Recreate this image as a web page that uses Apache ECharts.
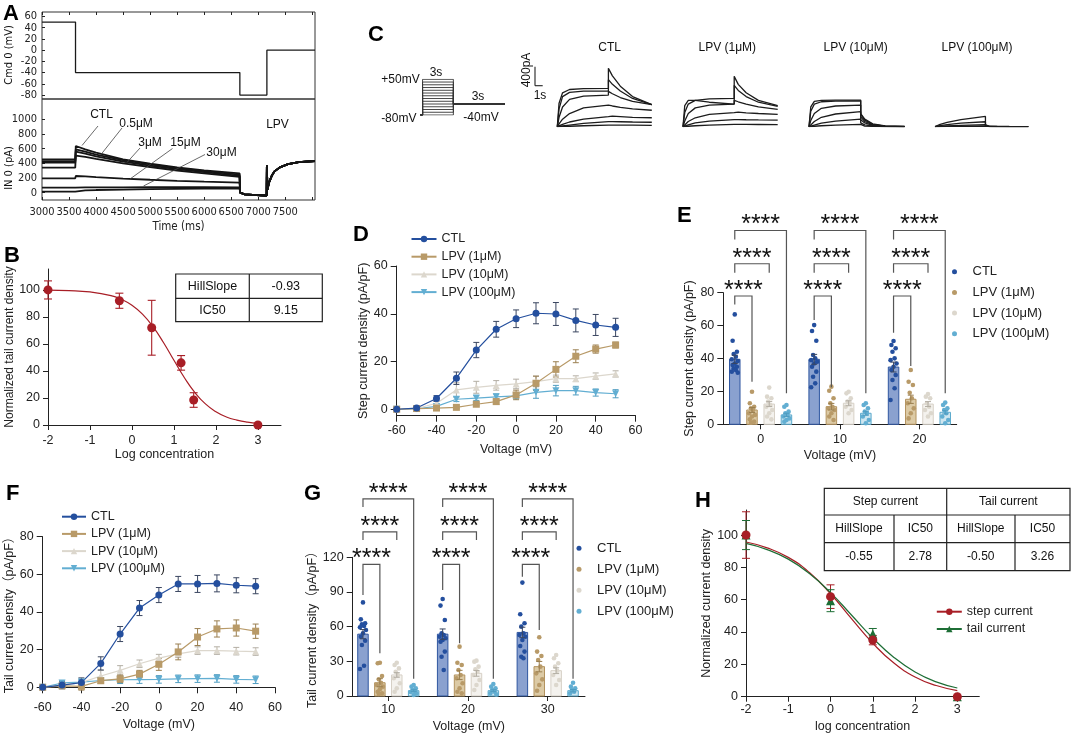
<!DOCTYPE html>
<html><head><meta charset="utf-8">
<script src="https://cdn.jsdelivr.net/npm/echarts@6/dist/echarts.min.js"></script>
<style>html,body{margin:0;padding:0;background:#fff}#c{width:1072px;height:736px}</style>
</head><body><div id="c"></div>
<script>
const FONT = "'Liberation Sans', Arial, 'Noto Sans CJK SC', sans-serif";
const NARROW = "'Liberation Sans Narrow', 'DejaVu Sans Condensed', 'Liberation Sans', sans-serif";
const INK = '#222';

// ---------------- Panel A data ----------------
const aCmdTime = [3000, 3620, 3620, 6660, 6660, 7160, 7160, 8050];
const aCmdMv = [50, 50, -40, -40, -80, -80, 0, 0];
const aTraceTime = [3000, 3615, 3625, 3800, 4000, 4500, 5000, 5500, 6000, 6655];
const aTraceCTL = [455, 455, 636, 590, 545, 455, 395, 345, 305, 264];
const aTrace05 = [430, 430, 591, 560, 520, 445, 385, 335, 295, 245];
const aTrace3 = [409, 409, 559, 532, 495, 425, 370, 320, 280, 228];
const aTrace15 = [341, 341, 504, 488, 460, 400, 350, 302, 262, 215];
const aTrace30 = [196, 196, 227, 222, 212, 192, 176, 162, 150, 136];
const aTraceP = [68, 68, 72, 72, 72, 73, 74, 74, 74, 73];
const aTraceQ = [14, 14, 25, 30, 36, 42, 48, 53, 57, 60];
const aTailTime = [6665, 6690, 6750, 6900, 7050, 7155, 7160, 7170, 7200, 7250, 7300, 7400, 7550, 7750, 8050];
const aTailPA = [0, -10, -22, -30, -35, -40, 377, 40, 140, 230, 290, 345, 390, 415, 432];
const aTimeLabels = [3000, 3500, 4000, 4500, 5000, 5500, 6000, 6500, 7000, 7500];
const aTimeTicks = [3000, 3500, 4000, 4500, 5000, 5500, 6000, 6500, 7000, 7500, 8000];
const aCmdTicks = [-80, -60, -40, -20, 0, 20, 40, 60];
const aCurTicks = [0, 200, 400, 600, 800, 1000];
const aLabels = ['CTL', '0.5μM', '3μM', '15μM', '30μM'];

// ---------------- Panel C data ----------------
const cTime = [0, 0.1, 0.3, 0.7, 1.5, 2.92, 2.92, 3.15, 3.6, 4.3, 5.4];
const cTitles = ['CTL', 'LPV (1μM)', 'LPV (10μM)', 'LPV (100μM)'];
const cCTL = [
  [0, 500, 720, 790, 810, 815, 1240, 1080, 860, 640, 470],
  [0, 380, 640, 730, 755, 758, 1000, 900, 760, 600, 470],
  [0, 200, 420, 580, 650, 673, 750, 700, 620, 540, 470],
  [0, 60, 160, 280, 400, 460, 460, 440, 410, 380, 350],
  [0, 15, 50, 100, 160, 213, 230, 225, 215, 200, 190],
  [0, 5, 15, 35, 70, 106, 110, 108, 105, 100, 95],
  [0, 2, 5, 10, 20, 35, 35, 34, 33, 32, 30]
];
const cLPV1 = [
  [0, 300, 480, 560, 590, 600, 1070, 900, 720, 560, 450],
  [0, 450, 560, 560, 520, 480, 880, 770, 640, 520, 430],
  [0, 120, 280, 400, 460, 480, 560, 530, 480, 420, 370],
  [0, 40, 110, 190, 260, 300, 320, 310, 295, 280, 260],
  [0, 10, 40, 80, 120, 150, 155, 152, 148, 144, 140],
  [0, 3, 10, 20, 35, 50, 50, 49, 48, 47, 46]
];
const cLPV10 = [
  [0, 420, 540, 560, 565, 566, 280, 160, 60, 15, 5],
  [0, 330, 480, 530, 545, 550, 260, 140, 50, 12, 4],
  [0, 130, 280, 390, 440, 460, 210, 110, 40, 10, 3],
  [0, 40, 110, 200, 270, 320, 150, 80, 30, 8, 2],
  [0, 10, 35, 75, 120, 160, 80, 40, 15, 4, 1],
  [0, 3, 10, 20, 35, 50, 25, 12, 5, 2, 0]
];
const cLPV100 = [
  [0, 20, 50, 90, 150, 219, 25, 12, 6, 4, 3],
  [0, 10, 25, 45, 75, 105, 12, 6, 4, 3, 2],
  [0, 4, 10, 18, 30, 45, 6, 4, 3, 2, 1],
  [0, 1, 3, 6, 10, 15, 3, 2, 1, 1, 1]
];
const protoLevels = [-80, -70, -60, -50, -40, -30, -20, -10, 0, 10, 20, 30, 40, 50];
const protoTime = [0, 0.22, 0.22, 3.22, 3.22, 8.22];

// ---------------- Panel B data ----------------
const bLogConc = [-2, -0.3, 0.47, 1.17, 1.47, 3];
const bMean = [100, 92, 72, 46, 18.5, 0];
const bErr = [6.7, 5.6, 20.3, 5.4, 5.4, 0];
const bFitX = [-2, -1.5, -1, -0.5, -0.25, 0, 0.25, 0.5, 0.75, 1, 1.25, 1.5, 1.75, 2, 2.25, 2.5, 2.75, 3];
const bFitY = [99.8, 99.5, 98.5, 95.8, 93.0, 88.7, 82.1, 72.8, 61.1, 47.9, 35.0, 24.0, 15.6, 9.8, 5.95, 3.6, 2.1, 1.25];
const bTableRows = [['HillSlope', '-0.93'], ['IC50', '9.15']];
const logTicks = [-2, -1, 0, 1, 2, 3];
const pctTicks = [0, 20, 40, 60, 80, 100];

// ---------------- Panel D / F data ----------------
const ivVolt = [-60, -50, -40, -30, -20, -10, 0, 10, 20, 30, 40, 50];
const dCTL = [0, 0.5, 4.5, 13, 24.8, 33.5, 37.9, 40.2, 39.9, 37.2, 35.3, 34.3];
const dCTLerr = [0.3, 0.5, 1.2, 2.6, 3.2, 3.3, 3.7, 4.4, 4.8, 4.8, 4.4, 3.8];
const dLPV1 = [0, 0.3, 0.5, 0.8, 2.1, 3.2, 6, 10.9, 16.7, 22.2, 25.2, 26.9];
const dLPV1err = [0.2, 0.3, 0.4, 0.5, 0.6, 1.2, 2, 3, 3.2, 2.7, 1.7, 1.2];
const dLPV10 = [0, 0.3, 2.5, 8.1, 9.2, 10, 10.6, 11.6, 12.8, 12.8, 13.9, 14.8];
const dLPV10err = [0.2, 0.3, 1, 3, 2.5, 2, 2, 2.2, 1.5, 1.2, 1.3, 1.3];
const dLPV100 = [0, 0.2, 1.2, 4.2, 4.7, 5.2, 5.6, 7.1, 7.8, 7.8, 7, 6.5];
const dLPV100err = [0.2, 0.2, 1, 1, 1, 1.2, 1.2, 2.5, 2.2, 1.8, 1.5, 1.7];
const fCTL = [0, 1.2, 2.5, 12.7, 28.3, 42.1, 49, 54.9, 54.9, 55.2, 54.2, 53.7];
const fCTLerr = [0.5, 2, 2.5, 3.5, 4, 4, 4, 4, 4.5, 4.5, 4, 4];
const fLPV1 = [0, 0.8, 0.5, 3.5, 4.5, 7, 12.2, 18.8, 26.7, 31, 31.5, 29.8];
const fLPV1err = [0.5, 1, 2, 1.5, 2, 2, 3.2, 4.2, 4.5, 4.3, 4.3, 3.8];
const fLPV10 = [0, 1.2, 2.5, 6, 9, 12.5, 15.5, 17.8, 19.5, 19.5, 19.2, 19];
const fLPV10err = [0.5, 1, 1.5, 3, 2.5, 2, 2, 2, 2, 2, 2, 2];
const fLPV100 = [0, 2.3, 2.8, 3.6, 4, 4.1, 4.2, 4.5, 4.6, 4.7, 4.2, 4];
const fLPV100err = [0.5, 1, 1.5, 1.5, 2, 2, 2, 2, 2, 2, 2, 2];

// ---------------- Panel E data ----------------
const eCats = ['0', '10', '20'];
const eMeanCTL = [39.5, 39.5, 34.8], eSemCTL = [2.5, 3, 3];
const eMeanLPV1 = [8.7, 10.7, 15.2], eSemLPV1 = [1.5, 2, 2.5];
const eMeanLPV10 = [12.3, 12.8, 12.3], eSemLPV10 = [1.5, 1.5, 1.5];
const eMeanLPV100 = [5.7, 6.7, 7.3], eSemLPV100 = [1, 1.2, 1];
const eDotsCTL = [
  [66.8, 50.8, 44.1, 42.7, 41.1, 39.5, 38.5, 37, 36, 35, 34, 33, 32, 31.4],
  [60.3, 56.7, 50.8, 42.1, 40.1, 39, 38, 37, 35, 32, 28.9, 24.9, 22.5],
  [50.6, 48.2, 46.2, 44.1, 40.1, 39, 37, 35, 33, 30, 26.9, 21.9, 14.8]];
const eDotsLPV1 = [
  [19.8, 12.8, 10.7, 9.7, 8.7, 6.7, 5.7, 4.7, 3, 1.6, 1],
  [22.9, 20.4, 15.8, 12.8, 10.7, 9.7, 8.7, 6.7, 4.7, 2.6],
  [33, 25.9, 23.9, 19.2, 15.8, 12.8, 9.7, 6.7, 3.6]];
const eDotsLPV10 = [
  [22.3, 16.8, 15.8, 13.8, 11.7, 10.7, 8.7, 6.7, 4.7, 3],
  [19.8, 18.8, 15.8, 13.8, 12.8, 10.7, 8.7, 6.7],
  [18.4, 16.8, 15.8, 12.8, 10.7, 8.7, 6.7, 4.7]];
const eDotsLPV100 = [
  [11.7, 10.7, 7.7, 6.7, 5.7, 4.7, 3.6, 2.6, 1.6],
  [12.8, 11.7, 9.7, 7.7, 6.7, 4.7, 2.6, 0.6],
  [13.2, 11.7, 9.7, 8.7, 6.7, 4.7, 2.6, 0.6]];
// [category, compared group, bracket top, left leg end, right leg end]
const eBrackets = [
  [0, 1, 78, 72.9, 25.9], [0, 2, 97.6, 92.1, 92.1], [0, 3, 117.8, 112.3, 18.8],
  [1, 1, 78, 63.4, 22.5], [1, 2, 97.6, 92.1, 92.1], [1, 3, 117.8, 112.3, 18.8],
  [2, 1, 78, 55.7, 35.4], [2, 2, 97.6, 92.1, 92.1], [2, 3, 117.8, 112.3, 18.8]];

// ---------------- Panel G data ----------------
const gCats = ['10', '20', '30'];
const gMeanCTL = [53.5, 53.5, 55], gSemCTL = [4, 4.5, 4.5];
const gMeanLPV1 = [11.5, 18.2, 25.4], gSemLPV1 = [3.5, 4, 4.5];
const gMeanLPV10 = [18.2, 19.6, 21.9], gSemLPV10 = [2, 2.5, 2.5];
const gMeanLPV100 = [4.6, 4.6, 4.6], gSemLPV100 = [0.8, 0.8, 1];
const gDotsCTL = [
  [81, 66.3, 62.9, 62, 60.6, 59.4, 57.1, 54.2, 51.3, 47.9, 44.1, 26.2, 23.4],
  [83.9, 78.2, 65.8, 54.2, 52.8, 51.3, 49.9, 48.5, 47, 38.4, 34, 22.5],
  [98.1, 70.7, 62.9, 60, 54.2, 52.8, 51.3, 48.5, 43.3, 38.4, 34, 32.6]];
const gDotsLPV1 = [
  [28.8, 28.3, 17.3, 14.4, 11.5, 9.5, 8.1, 5.8, 3.7, 2.3, 1.7],
  [42.7, 28.8, 26.8, 22.5, 18.2, 15.3, 11, 6.6, 3.7, 2.3],
  [50.8, 38.4, 34.6, 31.2, 25.4, 19.6, 14.4, 9.5, 4.6]];
const gDotsLPV10 = [
  [28.8, 26.8, 23.9, 21, 18.2, 15.3, 11, 6.6, 3.7],
  [30.6, 29.7, 25.4, 23.1, 21, 18.2, 13.8, 9.5, 5.2],
  [35.5, 32.6, 28.3, 25.4, 21.9, 18.2, 13.8, 9.5]];
const gDotsLPV100 = [
  [9.5, 8.1, 6.6, 5.2, 4.3, 3.5, 2.3, 0.9],
  [10.4, 8.1, 6.6, 5.2, 3.7, 2.3, 1.4],
  [11.5, 8.1, 6.6, 5.2, 3.7, 2.3]];
const gBrackets = [
  [0, 1, 113.9, 87.4, 36.9], [0, 2, 142, 135, 135], [0, 3, 170.5, 163.5, 15],
  [1, 1, 113.9, 91.7, 45.6], [1, 2, 142, 135, 135], [1, 3, 170.5, 163.5, 15],
  [2, 1, 113.9, 103.2, 57], [2, 2, 142, 135, 135], [2, 3, 170.5, 163.5, 15]];

// ---------------- Panel H data ----------------
const hLogConc = [-2, 0, 1, 3];
const hStepMean = [100, 61.9, 35, 0], hStepErr = [14.4, 7.3, 2.9, 0];
const hTailMean = [100, 59.4, 38.8, 0], hTailErr = [9, 6.8, 3.4, 0];
const hFitX = [-2, -1.5, -1, -0.5, 0, 0.5, 1, 1.5, 2, 2.5, 3];
const hStepFit = [95.7, 92.1, 86.2, 76.8, 63.7, 48.2, 33.1, 20.8, 12.2, 6.9, 3.8];
const hTailFit = [94.8, 91.0, 85.1, 76.2, 64.4, 50.4, 36.3, 24.3, 15.3, 9.2, 5.4];
const hTableHead = ['Step current', 'Tail current'];
const hTableSub = ['HillSlope', 'IC50', 'HillSlope', 'IC50'];
const hTableVal = ['-0.55', '2.78', '-0.50', '3.26'];

// ---------------- styles ----------------
const groups = ['CTL', 'LPV (1μM)', 'LPV (10μM)', 'LPV (100μM)'];
const gColor = ['#244f9e', '#b89a68', '#dcd7cd', '#62aed2'];
const gErrColor = ['#3a4660', '#9a7f50', '#b3aea4', '#4f9cc0'];
const gBarFill = ['#8aa1cf', '#dccaa5', '#f4f2ee', '#cfe6f0'];
const gBarStroke = ['#2f56a0', '#b3935f', '#d6d0c6', '#5aa9cc'];
const gSymbol = ['circle', 'rect', 'triangle', 'triangle'];
const gRotate = [0, 0, 0, 180];
const RED = '#a81e26', GREEN = '#1e6e36';
const plain = v => String(v);

function merge(a, b) {
  const out = Object.assign({}, a);
  for (const k in b) {
    const bv = b[k], av = a[k];
    if (bv && typeof bv === 'object' && !Array.isArray(bv) && av && typeof av === 'object' && !Array.isArray(av)) out[k] = merge(av, bv);
    else out[k] = bv;
  }
  return out;
}
function valAxis(gi, o) {
  return merge({
    gridIndex: gi, type: 'value', splitLine: { show: false },
    axisLine: { show: true, onZero: false, lineStyle: { color: INK, width: 1 } },
    axisTick: { show: true, length: 5, lineStyle: { color: INK } },
    axisLabel: { color: INK, fontFamily: FONT, fontSize: 12.5, margin: 8, hideOverlap: false, showMinLabel: true, showMaxLabel: true },
    nameLocation: 'middle',
    nameTextStyle: { color: INK, fontFamily: FONT, fontSize: 12.5 }
  }, o || {});
}
function hiddenAxis(gi, min, max) { return { gridIndex: gi, type: 'value', show: false, min, max, splitLine: { show: false } }; }

const grids = [], xAxes = [], yAxes = [], series = [], legends = [], els = [];
function addGrid(g, xa, ya) { grids.push(Object.assign({ containLabel: false }, g)); const i = grids.length - 1; xa.gridIndex = i; ya.gridIndex = i; xAxes.push(xa); yAxes.push(ya); return i; }

function errRender(dx, color, cap, lw) {
  return function (params, api) {
    const x = api.value(0) + dx;
    const a = api.coord([x, api.value(1)]), b = api.coord([x, api.value(2)]);
    const st = { stroke: color, lineWidth: lw };
    return { type: 'group', children: [
      { type: 'line', shape: { x1: a[0], y1: a[1], x2: b[0], y2: b[1] }, style: st },
      { type: 'line', shape: { x1: a[0] - cap, y1: a[1], x2: a[0] + cap, y2: a[1] }, style: st },
      { type: 'line', shape: { x1: b[0] - cap, y1: b[1], x2: b[0] + cap, y2: b[1] }, style: st }] };
  };
}
function barRender(dx, fill, stroke) {
  return function (params, api) {
    const x = api.value(0) + dx;
    const p0 = api.coord([x, 0]), p1 = api.coord([x, api.value(1)]);
    const w = 10.5;
    return { type: 'rect', shape: { x: p0[0] - w / 2, y: p1[1], width: w, height: p0[1] - p1[1] }, style: { fill, stroke, lineWidth: 1 } };
  };
}
function bracketRender(step) {
  return function (params, api) {
    const cat = api.value(0), g = api.value(1), top = api.value(2), lb = api.value(3), rb = api.value(4);
    const xl = cat - 1.5 * step, xr = cat + (g - 1.5) * step;
    const a = api.coord([xl, lb]), b = api.coord([xl, top]), c = api.coord([xr, top]), d = api.coord([xr, rb]);
    return { type: 'group', children: [
      { type: 'polyline', shape: { points: [a, b, c, d] }, style: { stroke: '#555', lineWidth: 1.2, fill: null } },
      { type: 'text', x: (b[0] + c[0]) / 2, y: b[1] - 5, style: { text: '****', fontSize: 25, fontFamily: FONT, fill: '#111', align: 'center', verticalAlign: 'middle' } }] };
  };
}

// ================= Panel A =================
const giA1 = addGrid({ left: 42, top: 12, width: 273, height: 87, show: true, borderColor: '#333', borderWidth: 1 },
  valAxis(0, { min: 3000, max: 8050, position: 'top', axisLine: { show: false }, axisTick: { inside: true, length: 3, customValues: aTimeTicks }, axisLabel: { show: false } }),
  valAxis(0, { min: -87, max: 68, axisLine: { show: false }, axisTick: { inside: true, length: 3, customValues: aCmdTicks }, axisLabel: { customValues: aCmdTicks, fontFamily: NARROW, fontSize: 11, margin: 5, formatter: plain } }));
const giA2 = addGrid({ left: 42, top: 99, width: 273, height: 101, show: true, borderColor: '#333', borderWidth: 1 },
  valAxis(0, { min: 3000, max: 8050, axisLine: { show: false }, axisTick: { inside: true, length: 3, customValues: aTimeTicks }, axisLabel: { customValues: aTimeLabels, fontFamily: NARROW, fontSize: 11, margin: 7, formatter: plain }, name: 'Time (ms)', nameGap: 21, nameTextStyle: { fontFamily: NARROW, fontSize: 11.5 } }),
  valAxis(0, { min: -100, max: 1277, axisLine: { show: false }, axisTick: { inside: true, length: 3, customValues: aCurTicks }, axisLabel: { customValues: aCurTicks, fontFamily: NARROW, fontSize: 11, margin: 5, formatter: plain } }));
series.push({ type: 'line', xAxisIndex: giA1, yAxisIndex: giA1, data: aCmdTime.map((t, i) => [t, aCmdMv[i]]), showSymbol: false, silent: true, lineStyle: { color: '#1a1a1a', width: 1.3 } });
[aTraceCTL, aTrace05, aTrace3, aTrace15, aTrace30, aTraceP, aTraceQ].forEach(tr => {
  const d = aTraceTime.map((t, i) => [t, tr[i]]).concat(aTailTime.map((t, i) => [t, aTailPA[i]]));
  series.push({ type: 'line', xAxisIndex: giA2, yAxisIndex: giA2, data: d, showSymbol: false, silent: true, lineStyle: { color: '#151515', width: 1.8 } });
});

// ================= Panel C =================
const cLeft = [557.3, 683, 809, 935], cWidth = [94.5, 94.7, 95.6, 93.3];
[cCTL, cLPV1, cLPV10, cLPV100].forEach((set, k) => {
  const gi = addGrid({ left: cLeft[k], top: 67.4, width: cWidth[k], height: 59.3 }, hiddenAxis(0, 0, 5.4), hiddenAxis(0, 0, 1260));
  set.forEach(curve => series.push({ type: 'line', xAxisIndex: gi, yAxisIndex: gi, data: cTime.map((t, i) => [t, curve[i]]), showSymbol: false, silent: true, lineStyle: { color: '#1c1c1c', width: 1.3 } }));
});
const giProto = addGrid({ left: 420.3, top: 79.3, width: 84.4, height: 35.7 }, hiddenAxis(0, 0, 8.22), hiddenAxis(0, -80, 50));
protoLevels.forEach(v => {
  const volts = [-80, -80, v, v, -40, -40];
  series.push({ type: 'line', xAxisIndex: giProto, yAxisIndex: giProto, data: protoTime.map((t, i) => [t, volts[i]]), showSymbol: false, silent: true, lineStyle: { color: '#333', width: 0.9 } });
});

// ================= Panel B =================
const giB = addGrid({ left: 48, top: 269, width: 233, height: 156 },
  valAxis(0, { min: -2, max: 3.55, axisTick: { customValues: logTicks }, axisLabel: { customValues: logTicks, margin: 9 }, name: 'Log concentration', nameGap: 23 }),
  valAxis(0, { min: 0, max: 115.5, axisTick: { customValues: pctTicks }, axisLabel: { customValues: pctTicks, margin: 8 }, name: 'Normalized tail current density', nameGap: 29, nameTextStyle: { fontSize: 12 } }));
series.push({ type: 'line', xAxisIndex: giB, yAxisIndex: giB, data: bFitX.map((x, i) => [x, bFitY[i]]), smooth: true, showSymbol: false, silent: true, lineStyle: { color: RED, width: 1.2 }, z: 2 });
series.push({ type: 'custom', coordinateSystem: 'cartesian2d', xAxisIndex: giB, yAxisIndex: giB, renderItem: errRender(0, RED, 4, 1.1), data: bLogConc.map((x, i) => [x, bMean[i] - bErr[i], bMean[i] + bErr[i]]), silent: true, z: 3, clip: false });
series.push({ type: 'scatter', xAxisIndex: giB, yAxisIndex: giB, data: bLogConc.map((x, i) => [x, bMean[i]]), symbolSize: 9, itemStyle: { color: RED, opacity: 1 }, silent: true, z: 4, clip: false });

// ================= Panels D & F (I-V curves) =================
function ivPanel(tag, gi, means, errs) {
  [3, 2, 1, 0].forEach(g => {
    series.push({ type: 'custom', coordinateSystem: 'cartesian2d', xAxisIndex: gi, yAxisIndex: gi, renderItem: errRender(0, gErrColor[g], 3, 1), data: ivVolt.map((v, i) => [v, means[g][i] - errs[g][i], means[g][i] + errs[g][i]]), silent: true, z: 2, clip: false });
  });
  [3, 2, 1, 0].forEach(g => {
    series.push({ type: 'line', name: groups[g] + '#' + tag, xAxisIndex: gi, yAxisIndex: gi, data: ivVolt.map((v, i) => [v, means[g][i]]), symbol: gSymbol[g], symbolRotate: gRotate[g], symbolSize: 7, showSymbol: true, itemStyle: { color: gColor[g], opacity: 1 }, lineStyle: { color: gColor[g], width: 1.2 }, silent: true, z: 3, clip: false });
  });
}
const giD = addGrid({ left: 396.7, top: 266, width: 238.8, height: 149.7 },
  valAxis(0, { min: -60, max: 60, interval: 20, axisTick: { length: 6 }, axisLabel: { margin: 9 }, name: 'Voltage (mV)', nameGap: 28 }),
  valAxis(0, { min: -2.7, max: 60, axisTick: { length: 6, customValues: [0, 20, 40, 60] }, axisLabel: { customValues: [0, 20, 40, 60], margin: 9 }, name: 'Step current density (pA/pF)', nameGap: 25 }));
ivPanel('D', giD, [dCTL, dLPV1, dLPV10, dLPV100], [dCTLerr, dLPV1err, dLPV10err, dLPV100err]);
const giF = addGrid({ left: 42.7, top: 536.7, width: 232.3, height: 150.6 },
  valAxis(0, { min: -60, max: 60, interval: 20, axisTick: { length: 6 }, axisLabel: { margin: 14 }, name: 'Voltage (mV)', nameGap: 31 }),
  valAxis(0, { min: 0, max: 80, interval: 20, axisTick: { length: 6 }, axisLabel: { margin: 9 }, name: 'Tail current density（pA/pF）', nameGap: 18 }));
ivPanel('F', giF, [fCTL, fLPV1, fLPV10, fLPV100], [fCTLerr, fLPV1err, fLPV10err, fLPV100err]);

// ================= Panels E & G (bar + dots) =================
const jit = [0, -1, 1, -0.5, 0.5, -1.4, 1.4];
function barPanel(tag, gi, step, means, sems, dots, brackets) {
  [0, 1, 2, 3].forEach(g => {
    const dx = (g - 1.5) * step;
    series.push({ type: 'custom', coordinateSystem: 'cartesian2d', xAxisIndex: gi, yAxisIndex: gi, renderItem: barRender(dx, gBarFill[g], gBarStroke[g]), data: means[g].map((m, c) => [c, m]), silent: true, z: 1, clip: false });
  });
  [0, 1, 2, 3].forEach(g => {
    const dx = (g - 1.5) * step;
    const pts = [];
    dots[g].forEach((arr, c) => arr.forEach((v, i) => pts.push([c + dx + jit[i % 7] * 0.027, v])));
    series.push({ type: 'scatter', name: groups[g] + '#' + tag, xAxisIndex: gi, yAxisIndex: gi, data: pts, symbol: 'circle', symbolSize: 4.6, itemStyle: { color: gColor[g], opacity: 1 }, silent: true, z: 2, clip: false });
  });
  [0, 1, 2, 3].forEach(g => {
    const dx = (g - 1.5) * step;
    series.push({ type: 'custom', coordinateSystem: 'cartesian2d', xAxisIndex: gi, yAxisIndex: gi, renderItem: errRender(dx, gErrColor[g], 3, 1), data: means[g].map((m, c) => [c, m - sems[g][c], m + sems[g][c]]), silent: true, z: 3, clip: false });
  });
  series.push({ type: 'custom', coordinateSystem: 'cartesian2d', xAxisIndex: gi, yAxisIndex: gi, renderItem: bracketRender(step), data: brackets, silent: true, z: 4, clip: false });
}
const giE = addGrid({ left: 723.3, top: 292.7, width: 233.4, height: 131.6 },
  valAxis(0, { min: -0.47, max: 2.47, axisTick: { length: 5, customValues: [0, 1, 2] }, axisLabel: { customValues: [0, 1, 2], margin: 9, formatter: v => eCats[Math.round(v)] }, name: 'Voltage (mV)', nameGap: 25 }),
  valAxis(0, { min: 0, max: 80, interval: 20, axisTick: { length: 6 }, axisLabel: { margin: 9 }, name: 'Step current density (pA/pF)', nameGap: 28 }));
barPanel('E', giE, 0.217, [eMeanCTL, eMeanLPV1, eMeanLPV10, eMeanLPV100], [eSemCTL, eSemLPV1, eSemLPV10, eSemLPV100], [eDotsCTL, eDotsLPV1, eDotsLPV10, eDotsLPV100], eBrackets);
const giG = addGrid({ left: 352.7, top: 557.3, width: 232.3, height: 138.7 },
  valAxis(0, { min: -0.447, max: 2.468, axisTick: { length: 5, customValues: [0, 1, 2] }, axisLabel: { customValues: [0, 1, 2], margin: 7, formatter: v => gCats[Math.round(v)] }, name: 'Voltage (mV)', nameGap: 24 }),
  valAxis(0, { min: 0, max: 120, interval: 30, axisTick: { length: 6 }, axisLabel: { margin: 9 }, name: 'Tail current density（pA/pF）', nameGap: 31 }));
barPanel('G', giG, 0.212, [gMeanCTL, gMeanLPV1, gMeanLPV10, gMeanLPV100], [gSemCTL, gSemLPV1, gSemLPV10, gSemLPV100], [gDotsCTL, gDotsLPV1, gDotsLPV10, gDotsLPV100], gBrackets);

// ================= Panel H =================
const giH = addGrid({ left: 746, top: 510, width: 233.3, height: 186.7 },
  valAxis(0, { min: -2, max: 3.52, axisTick: { customValues: logTicks }, axisLabel: { customValues: logTicks, margin: 7 }, name: 'log concentration', nameGap: 24 }),
  valAxis(0, { min: 0, max: 115.5, axisTick: { customValues: pctTicks }, axisLabel: { customValues: pctTicks, margin: 8 }, name: 'Normalized current density', nameGap: 29 }));
series.push({ type: 'line', xAxisIndex: giH, yAxisIndex: giH, data: hFitX.map((x, i) => [x, hStepFit[i]]), smooth: true, showSymbol: false, silent: true, lineStyle: { color: RED, width: 1.2 }, z: 2 });
series.push({ type: 'line', xAxisIndex: giH, yAxisIndex: giH, data: hFitX.map((x, i) => [x, hTailFit[i]]), smooth: true, showSymbol: false, silent: true, lineStyle: { color: GREEN, width: 1.2 }, z: 2 });
series.push({ type: 'custom', coordinateSystem: 'cartesian2d', xAxisIndex: giH, yAxisIndex: giH, renderItem: errRender(0, RED, 4, 1), data: hLogConc.map((x, i) => [x, hStepMean[i] - hStepErr[i], hStepMean[i] + hStepErr[i]]), silent: true, z: 3, clip: false });
series.push({ type: 'custom', coordinateSystem: 'cartesian2d', xAxisIndex: giH, yAxisIndex: giH, renderItem: errRender(0, GREEN, 4, 1), data: hLogConc.map((x, i) => [x, hTailMean[i] - hTailErr[i], hTailMean[i] + hTailErr[i]]), silent: true, z: 3, clip: false });
function isolated(xs, ys) { const d = []; xs.forEach((x, i) => { if (i) d.push([x - 0.01, null]); d.push([x, ys[i]]); }); return d; }
series.push({ type: 'line', name: 'tail current#H', xAxisIndex: giH, yAxisIndex: giH, data: isolated(hLogConc, hTailMean), connectNulls: false, symbol: 'triangle', symbolSize: 9, showSymbol: true, itemStyle: { color: GREEN }, lineStyle: { color: GREEN, width: 1.2 }, silent: true, z: 4, clip: false });
series.push({ type: 'line', name: 'step current#H', xAxisIndex: giH, yAxisIndex: giH, data: isolated(hLogConc, hStepMean), connectNulls: false, symbol: 'circle', symbolSize: 9, showSymbol: true, itemStyle: { color: RED }, lineStyle: { color: RED, width: 1.2 }, silent: true, z: 5, clip: false });

// ================= Legends =================
const fmt = n => n.split('#')[0];
function lineLegend(tag, left, top, gap, w) {
  return { left, top, orient: 'vertical', itemWidth: w, itemHeight: 8, itemGap: gap, selectedMode: false, formatter: fmt,
    data: groups.map(g => g + '#' + tag), textStyle: { fontFamily: FONT, fontSize: 12.5, color: INK, lineHeight: 14 } };
}
function dotLegend(tag, left, top, gap) {
  return { left, top, orient: 'vertical', icon: 'circle', itemWidth: 26, itemHeight: 5, itemGap: gap, selectedMode: false, formatter: fmt,
    data: groups.map(g => g + '#' + tag), textStyle: { fontFamily: FONT, fontSize: 13, color: INK, lineHeight: 16 } };
}
legends.push(lineLegend('D', 405.5, 227, 3.7, 25));
legends.push(lineLegend('F', 56, 504.7, 3.2, 24));
legends.push(dotLegend('E', 947, 258.7, 4.7));
legends.push(dotLegend('G', 571.5, 535.3, 5));
legends.push({ left: 930.8, top: 599.7, orient: 'vertical', itemWidth: 25, itemHeight: 8, itemGap: 3.3, selectedMode: false, formatter: fmt,
  data: ['step current#H', 'tail current#H'], textStyle: { fontFamily: FONT, fontSize: 12.5, color: INK, lineHeight: 14 } });

// ================= Graphic annotations =================
function T(text, x, y, o) { o = o || {}; return { type: 'text', x, y, rotation: o.rot || 0, silent: true, z: 100,
  style: { text, fontSize: o.size || 12, fontFamily: o.font || FONT, fontWeight: o.weight || 'normal', fill: o.color || '#111', align: o.align || 'center', verticalAlign: 'middle' } }; }
function L(x1, y1, x2, y2, o) { o = o || {}; return { type: 'line', silent: true, z: 100, shape: { x1, y1, x2, y2 }, style: { stroke: o.color || '#222', lineWidth: o.w || 1 } }; }
function R(x, y, w, h) { return { type: 'rect', silent: true, z: 100, shape: { x, y, width: w, height: h }, style: { fill: 'rgba(0,0,0,0)', stroke: '#222', lineWidth: 1.2 } }; }

// panel letters
[['A', 3, 14], ['B', 4, 256], ['C', 368, 35], ['D', 353, 235], ['E', 677, 216], ['F', 6, 494], ['G', 304, 494], ['H', 695, 501]]
  .forEach(p => els.push(T(p[0], p[1], p[2], { size: 22, weight: 'bold', align: 'left', color: '#000' })));

// Panel A annotations
els.push(T('Cmd 0 (mV)', 9, 55, { rot: Math.PI / 2, font: NARROW, size: 11 }));
els.push(T('IN 0 (pA)', 9, 168, { rot: Math.PI / 2, font: NARROW, size: 11 }));
const aLabelPos = [[101.5, 115], [136, 123.5], [150, 142.5], [185.5, 142.5], [221.5, 152.5]];
const aPointer = [[98, 126, 82, 145.5], [122, 128, 101, 154.5], [140, 148, 126.5, 163], [172.5, 148.5, 130, 179], [205, 154.5, 143.5, 186]];
aLabels.forEach((s, i) => { els.push(T(s, aLabelPos[i][0], aLabelPos[i][1], { size: 12 })); const p = aPointer[i]; els.push(L(p[0], p[1], p[2], p[3], { w: 0.8, color: '#444' })); });
els.push(T('LPV', 277.5, 125, { size: 12 }));

// Panel C annotations
els.push(T('+50mV', 400.5, 79.3, { size: 12 }));
els.push(T('3s', 436, 72.7, { size: 12 }));
els.push(T('3s', 478, 96.7, { size: 12 }));
els.push(T('-80mV', 398.8, 118.3, { size: 12 }));
els.push(T('-40mV', 481, 117.8, { size: 12 }));
els.push(L(535, 66.7, 535, 85.7, { w: 1.1 }));
els.push(L(535, 85.7, 542.7, 85.7, { w: 1.1 }));
els.push(T('400pA', 527, 70, { rot: Math.PI / 2, size: 12 }));
els.push(T('1s', 540, 95.5, { size: 12 }));
const cTitleX = [609.7, 727.3, 855.6, 977];
cTitles.forEach((s, i) => els.push(T(s, cTitleX[i], 47.3, { size: 12 })));

// Panel B table
els.push(R(175.7, 274, 146.6, 47.7));
els.push(L(249.3, 274, 249.3, 321.7, { w: 1.2 }));
els.push(L(175.7, 298.3, 322.3, 298.3, { w: 1.2 }));
bTableRows.forEach((r, i) => { els.push(T(r[0], 212.5, 286.2 + i * 24, { size: 12.5 })); els.push(T(r[1], 285.8, 286.2 + i * 24, { size: 12.5 })); });

// Panel H table
els.push(R(824.3, 488.3, 245.7, 82.4));
els.push(L(824.3, 515, 1070, 515, { w: 1.2 }));
els.push(L(824.3, 542.7, 1070, 542.7, { w: 1.2 }));
els.push(L(946.7, 488.3, 946.7, 570.7, { w: 1.2 }));
els.push(L(894, 515, 894, 570.7, { w: 1.2 }));
els.push(L(1015, 515, 1015, 570.7, { w: 1.2 }));
const hColX = [859, 920.3, 980.8, 1042.5];
els.push(T(hTableHead[0], 885.5, 502, { size: 12 }));
els.push(T(hTableHead[1], 1008.3, 502, { size: 12 }));
hTableSub.forEach((s, i) => els.push(T(s, hColX[i], 529, { size: 12 })));
hTableVal.forEach((s, i) => els.push(T(s, hColX[i], 557, { size: 12 })));

const chart = echarts.init(document.getElementById('c'), null, { renderer: 'canvas', width: 1072, height: 736 });
chart.setOption({
  animation: false, backgroundColor: '#ffffff', textStyle: { fontFamily: FONT },
  grid: grids, xAxis: xAxes, yAxis: yAxes, series, legend: legends,
  graphic: { elements: els }
});
</script></body></html>
